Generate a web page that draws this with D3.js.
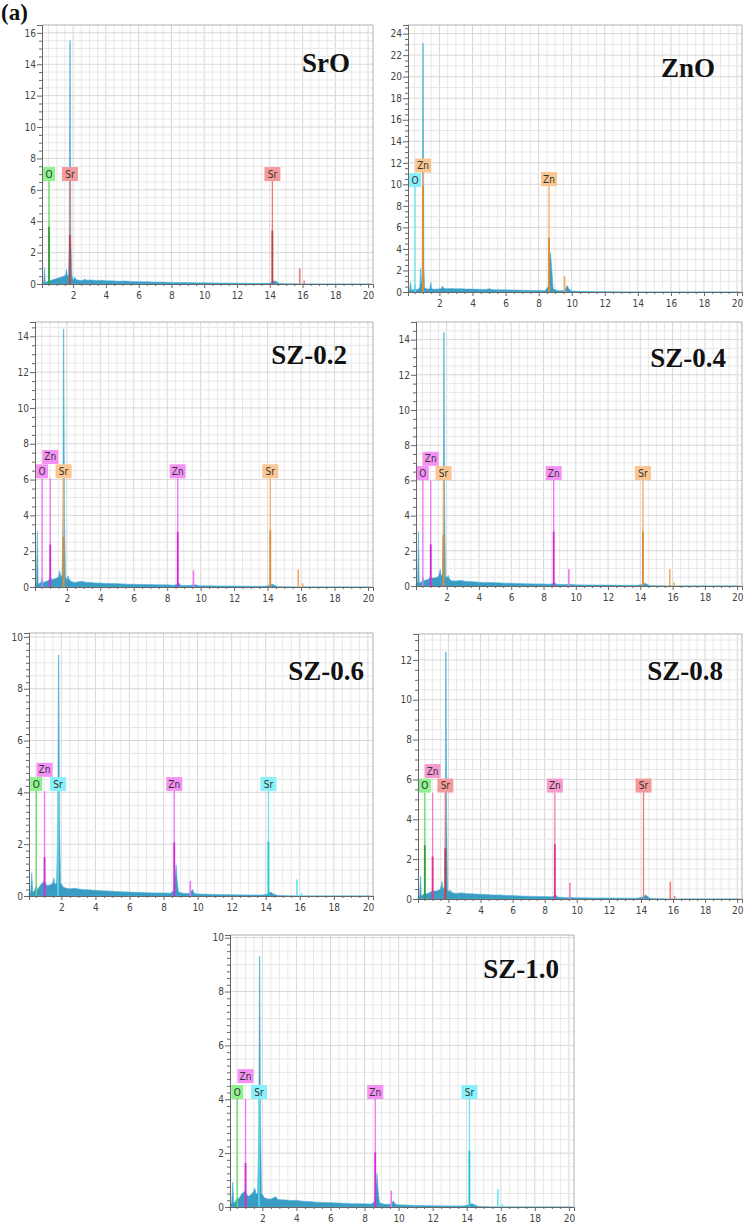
<!DOCTYPE html>
<html><head><meta charset="utf-8">
<script src="https://cdn.jsdelivr.net/npm/d3@7"></script>
<style>body{margin:0;background:#fff}svg{display:block}</style>
</head><body>
<svg id="c" width="745" height="1227"></svg>
<script>
// ---------- DATA ----------
const panelNames = ["SrO","ZnO","SZ-0.2","SZ-0.4","SZ-0.6","SZ-0.8","SZ-1.0"];
const xTickValues = [2,4,6,8,10,12,14,16,18,20];
const yMaxValues = [16.5, 24.8, 14.8, 15.0, 10.15, 13.3, 10.1];
const yGridSteps = [0.5, 1, 0.5, 0.5, 0.5, 0.5, 0.5];
const yMinorSteps = [0.5, 0.5, 0.5, 0.5, 0.25, 0.5, 0.25];

// spectra: [energy keV, counts]
const spectrumSrO = [[0.10,0.05],[0.20,0.1],[0.25,1.05],[0.30,0.1],[0.40,0.15],[0.50,0.2],[0.53,0.6],[0.56,0.2],[0.70,0.25],[0.85,0.3],[1.00,0.35],[1.15,0.4],[1.30,0.45],[1.45,0.5],[1.55,0.6],[1.60,0.95],[1.65,0.5],[1.72,0.6],[1.76,3],[1.80,15.5],[1.82,15.5],[1.86,3],[1.92,0.6],[1.98,0.3],[2.05,0.3],[2.10,0.45],[2.16,0.3],[2.3,0.25],[2.5,0.22],[2.7,0.28],[2.9,0.24],[3.1,0.26],[3.4,0.22],[3.7,0.24],[4.0,0.2],[4.4,0.2],[4.8,0.18],[5.2,0.19],[5.6,0.16],[6.0,0.15],[6.5,0.14],[7.0,0.12],[7.5,0.12],[8.0,0.1],[8.5,0.1],[9.0,0.09],[9.5,0.08],[10.0,0.08],[10.5,0.07],[11,0.06],[11.5,0.06],[12,0.05],[12.5,0.05],[13,0.04],[13.5,0.04],[14.0,0.05],[14.15,0.15],[14.3,0.2],[14.45,0.12],[14.6,0.03],[15,0.01],[16,0],[20.2,0]];
const spectrumZnO = [[0.10,0.05],[0.20,0.15],[0.26,0.9],[0.31,0.15],[0.40,0.2],[0.48,0.25],[0.52,0.7],[0.56,0.25],[0.65,0.2],[0.75,0.3],[0.82,0.5],[0.87,2.2],[0.92,0.8],[0.96,1.5],[1.00,23.1],[1.02,23.1],[1.06,2.5],[1.10,0.4],[1.2,0.3],[1.3,0.28],[1.42,0.3],[1.48,0.9],[1.53,0.3],[1.7,0.25],[1.9,0.28],[2.1,0.3],[2.18,0.55],[2.26,0.35],[2.4,0.3],[2.7,0.32],[3.0,0.3],[3.3,0.31],[3.6,0.28],[4.0,0.27],[4.4,0.25],[4.8,0.24],[5.0,0.3],[5.2,0.22],[5.6,0.2],[6.0,0.2],[6.5,0.18],[7.0,0.17],[7.5,0.15],[8.0,0.15],[8.4,0.14],[8.58,0.5],[8.64,2.5],[8.72,3.65],[8.8,2.0],[8.88,0.3],[9.1,0.15],[9.4,0.12],[9.6,0.2],[9.72,0.6],[9.85,0.25],[10.0,0.1],[10.5,0.06],[11,0.04],[12,0.02],[13,0.01],[14,0],[20.2,0]];
const spectrumSZ02 = [[0.10,0.1],[0.18,0.2],[0.24,3.1],[0.29,0.2],[0.35,0.2],[0.45,0.25],[0.52,0.5],[0.58,0.25],[0.7,0.3],[0.85,0.35],[1.0,0.45],[1.02,0.6],[1.1,0.4],[1.25,0.45],[1.4,0.5],[1.5,0.55],[1.58,0.9],[1.64,0.55],[1.72,0.7],[1.77,4],[1.80,14.4],[1.82,14.4],[1.86,4],[1.92,0.6],[2.0,0.4],[2.08,0.62],[2.15,0.4],[2.3,0.3],[2.5,0.25],[2.7,0.3],[2.9,0.32],[3.1,0.27],[3.4,0.25],[3.7,0.23],[4.0,0.22],[4.4,0.2],[4.8,0.19],[5.2,0.18],[5.6,0.16],[6.0,0.15],[6.5,0.14],[7.0,0.14],[7.5,0.12],[8.0,0.12],[8.4,0.1],[8.62,0.15],[8.7,0.22],[8.8,0.1],[9.2,0.08],[9.7,0.12],[9.9,0.07],[10.5,0.07],[11,0.06],[12,0.05],[13,0.04],[13.8,0.04],[14.1,0.08],[14.3,0.15],[14.45,0.08],[14.6,0.02],[15.5,0],[20.2,0]];
const spectrumSZ04 = [[0.10,0.1],[0.2,0.2],[0.25,3.1],[0.3,0.2],[0.4,0.2],[0.5,0.3],[0.53,0.5],[0.6,0.3],[0.75,0.35],[0.9,0.4],[1.02,0.55],[1.1,0.45],[1.25,0.45],[1.4,0.5],[1.5,0.55],[1.6,0.95],[1.66,0.55],[1.74,0.7],[1.79,4],[1.82,14.4],[1.84,14.4],[1.88,4],[1.93,0.6],[2.0,0.45],[2.1,0.6],[2.17,0.4],[2.3,0.3],[2.5,0.28],[2.7,0.3],[2.9,0.32],[3.1,0.27],[3.4,0.26],[3.7,0.24],[4.0,0.22],[4.4,0.2],[4.8,0.2],[5.2,0.18],[5.6,0.16],[6.0,0.16],[6.5,0.14],[7.0,0.13],[7.5,0.12],[8.0,0.12],[8.4,0.1],[8.62,0.14],[8.7,0.2],[8.8,0.1],[9.2,0.08],[9.7,0.1],[9.9,0.07],[10.5,0.06],[11,0.06],[12,0.05],[13,0.04],[13.8,0.04],[14.1,0.08],[14.3,0.15],[14.45,0.08],[14.6,0.02],[15.5,0],[20.2,0]];
const spectrumSZ06 = [[0.10,0.1],[0.2,0.15],[0.26,0.9],[0.32,0.15],[0.42,0.2],[0.52,0.4],[0.6,0.25],[0.7,0.35],[0.8,0.45],[0.9,0.5],[1.0,0.6],[1.1,0.45],[1.2,0.4],[1.3,0.42],[1.4,0.45],[1.5,0.5],[1.56,0.7],[1.62,0.45],[1.72,0.5],[1.79,3],[1.83,9.3],[1.85,9.3],[1.89,3],[1.95,0.5],[2.02,0.45],[2.1,0.35],[2.3,0.3],[2.5,0.28],[2.8,0.3],[3.0,0.27],[3.3,0.25],[3.6,0.24],[4.0,0.22],[4.4,0.2],[4.8,0.19],[5.2,0.17],[5.6,0.16],[6.0,0.15],[6.5,0.14],[7.0,0.13],[7.5,0.12],[8.0,0.12],[8.4,0.11],[8.6,0.2],[8.68,0.8],[8.74,1.2],[8.8,0.6],[8.88,0.15],[9.2,0.1],[9.5,0.1],[9.7,0.25],[9.82,0.1],[10,0.08],[10.5,0.07],[11,0.06],[12,0.05],[13,0.04],[13.8,0.04],[14.1,0.07],[14.3,0.15],[14.45,0.08],[14.7,0.02],[15.5,0],[20.2,0]];
const spectrumSZ08 = [[0.10,0.1],[0.2,0.15],[0.26,1.15],[0.31,0.15],[0.4,0.2],[0.52,0.3],[0.6,0.25],[0.75,0.3],[0.9,0.35],[1.02,0.45],[1.1,0.4],[1.25,0.4],[1.4,0.45],[1.5,0.5],[1.6,0.9],[1.66,0.5],[1.75,0.6],[1.80,4],[1.83,12.4],[1.85,12.4],[1.89,4],[1.94,0.5],[2.02,0.35],[2.1,0.45],[2.18,0.35],[2.3,0.3],[2.5,0.28],[2.7,0.3],[2.9,0.3],[3.1,0.27],[3.4,0.26],[3.7,0.25],[4.0,0.24],[4.4,0.22],[4.8,0.2],[5.2,0.2],[5.6,0.18],[6.0,0.17],[6.5,0.15],[7.0,0.14],[7.5,0.13],[8.0,0.12],[8.4,0.11],[8.62,0.14],[8.7,0.2],[8.8,0.1],[9.2,0.08],[9.7,0.08],[10,0.06],[10.5,0.06],[11,0.05],[12,0.05],[13,0.04],[13.8,0.04],[14.1,0.1],[14.3,0.2],[14.45,0.1],[14.6,0.02],[15.5,0],[20.2,0]];
const spectrumSZ10 = [[0.10,0.1],[0.2,0.15],[0.26,0.93],[0.32,0.15],[0.42,0.2],[0.52,0.35],[0.6,0.3],[0.7,0.4],[0.8,0.5],[0.9,0.55],[1.0,0.6],[1.1,0.45],[1.2,0.4],[1.3,0.45],[1.4,0.5],[1.5,0.6],[1.56,0.7],[1.62,0.5],[1.72,0.5],[1.79,3],[1.83,9.3],[1.85,9.3],[1.89,3],[1.95,0.5],[2.03,0.45],[2.1,0.35],[2.3,0.3],[2.5,0.3],[2.8,0.38],[2.9,0.28],[3.1,0.27],[3.4,0.26],[3.7,0.24],[4.0,0.25],[4.4,0.21],[4.8,0.2],[5.2,0.18],[5.6,0.17],[6.0,0.16],[6.5,0.15],[7.0,0.13],[7.5,0.12],[8.0,0.12],[8.4,0.11],[8.6,0.2],[8.68,0.8],[8.74,1.25],[8.8,0.6],[8.88,0.15],[9.2,0.1],[9.5,0.1],[9.7,0.22],[9.82,0.1],[10,0.08],[10.5,0.07],[11,0.06],[12,0.05],[13,0.04],[13.8,0.04],[14.1,0.07],[14.3,0.13],[14.45,0.08],[14.7,0.02],[15.5,0],[20.2,0]];

// element markers: energy, line top, label bottom, strong-part height, hue
const markersSrO = [
  {el:"O", e:0.525, top:6.56, lab:6.56, k:3.65, hue:"green"},
  {el:"Sr", e:1.806, top:6.56, lab:6.56, k:3.1, hue:"red"},
  {el:"Sr", e:14.16, top:6.56, lab:6.56, k:3.4, hue:"red"}];
const markersZnO = [
  {el:"O", e:0.525, top:9.75, lab:9.75, k:0, hue:"cyan"},
  {el:"Zn", e:1.012, top:11.1, lab:11.1, k:9.9, hue:"orange"},
  {el:"Zn", e:8.63, top:9.84, lab:9.84, k:5.05, hue:"orange"}];
const markersSZ02 = [
  {el:"O", e:0.525, top:6.07, lab:6.07, k:0, hue:"magenta"},
  {el:"Zn", e:1.012, top:6.07, lab:6.87, k:2.37, hue:"magenta"},
  {el:"Sr", e:1.806, top:6.07, lab:6.07, k:2.8, hue:"orange"},
  {el:"Zn", e:8.63, top:6.07, lab:6.07, k:3.08, hue:"magenta"},
  {el:"Sr", e:14.16, top:6.07, lab:6.07, k:3.17, hue:"orange"}];
const markersSZ04 = [
  {el:"O", e:0.525, top:6.02, lab:6.02, k:0, hue:"magenta"},
  {el:"Zn", e:1.012, top:6.0, lab:6.83, k:2.37, hue:"magenta"},
  {el:"Sr", e:1.806, top:6.02, lab:6.02, k:2.9, hue:"orange"},
  {el:"Zn", e:8.63, top:6.02, lab:6.02, k:3.09, hue:"magenta"},
  {el:"Sr", e:14.16, top:6.02, lab:6.02, k:3.1, hue:"orange"}];
const markersSZ06 = [
  {el:"O", e:0.525, top:4.05, lab:4.05, k:0, hue:"green"},
  {el:"Zn", e:1.012, top:4.05, lab:4.6, k:1.5, hue:"magenta"},
  {el:"Sr", e:1.806, top:4.05, lab:4.05, k:0, hue:"cyan"},
  {el:"Zn", e:8.63, top:4.05, lab:4.05, k:2.07, hue:"magenta"},
  {el:"Sr", e:14.16, top:4.05, lab:4.05, k:2.1, hue:"cyan"}];
const markersSZ08 = [
  {el:"O", e:0.525, top:5.34, lab:5.34, k:2.7, hue:"green"},
  {el:"Zn", e:1.012, top:5.34, lab:6.07, k:2.13, hue:"pink"},
  {el:"Sr", e:1.806, top:5.34, lab:5.34, k:2.55, hue:"red"},
  {el:"Zn", e:8.63, top:5.34, lab:5.34, k:2.75, hue:"pink"},
  {el:"Sr", e:14.16, top:5.34, lab:5.34, k:0, hue:"red"}];
const markersSZ10 = [
  {el:"O", e:0.525, top:4.01, lab:4.01, k:0, hue:"green"},
  {el:"Zn", e:1.012, top:4.01, lab:4.6, k:1.63, hue:"magenta"},
  {el:"Sr", e:1.806, top:4.01, lab:4.01, k:0, hue:"cyan"},
  {el:"Zn", e:8.63, top:4.01, lab:4.01, k:2.03, hue:"magenta"},
  {el:"Sr", e:14.16, top:4.01, lab:4.01, k:2.09, hue:"cyan"}];

// secondary (K-beta etc.) lines: energy, height, hue
const minorLinesSrO = [{e:15.83,h:1.0,hue:"red"},{e:16.1,h:0.2,hue:"red"}];
const minorLinesZnO = [{e:9.57,h:1.46,hue:"orange"}];
const minorLinesSZ02 = [{e:9.57,h:0.93,hue:"magenta"},{e:15.83,h:0.97,hue:"orange"},{e:16.1,h:0.2,hue:"orange"}];
const minorLinesSZ04 = [{e:9.57,h:0.95,hue:"magenta"},{e:15.83,h:0.95,hue:"orange"},{e:16.1,h:0.2,hue:"orange"}];
const minorLinesSZ06 = [{e:9.57,h:0.59,hue:"magenta"},{e:15.83,h:0.64,hue:"cyan"},{e:16.1,h:0.1,hue:"cyan"}];
const minorLinesSZ08 = [{e:9.57,h:0.82,hue:"pink"},{e:15.83,h:0.87,hue:"red"},{e:16.1,h:0.15,hue:"red"}];
const minorLinesSZ10 = [{e:9.57,h:0.61,hue:"magenta"},{e:15.83,h:0.66,hue:"cyan"},{e:16.1,h:0.1,hue:"cyan"}];

const spectra = [spectrumSrO,spectrumZnO,spectrumSZ02,spectrumSZ04,spectrumSZ06,spectrumSZ08,spectrumSZ10];
const markers = [markersSrO,markersZnO,markersSZ02,markersSZ04,markersSZ06,markersSZ08,markersSZ10];
const minorLines = [minorLinesSrO,minorLinesZnO,minorLinesSZ02,minorLinesSZ04,minorLinesSZ06,minorLinesSZ08,minorLinesSZ10];

// ---------- LAYOUT & STYLE ----------
const frames = [
  {l:42, t:25, r:373, b:284, tdx:23, tdy:47},
  {l:408,t:25, r:742, b:292, tdx:27, tdy:52},
  {l:35, t:322,r:373, b:587, tdx:26, tdy:42},
  {l:416,t:322,r:742, b:586, tdx:16, tdy:45},
  {l:29, t:633,r:373, b:896, tdx:9,  tdy:47},
  {l:418,t:634,r:742, b:899, tdx:19, tdy:46},
  {l:230,t:935,r:574, b:1207,tdx:15, tdy:43}];
const hues = {
  green:  {box:"#8ef28e", line:"#62dc62", k:"#2f9f3a"},
  red:    {box:"#f59a9a", line:"#f07a7a", k:"#c53d3d"},
  orange: {box:"#f9c590", line:"#f5a95e", k:"#df8a30"},
  magenta:{box:"#f591f5", line:"#f274f2", k:"#d22ad2"},
  cyan:   {box:"#88f0fa", line:"#62e6f2", k:"#22c6d6"},
  pink:   {box:"#f79ad0", line:"#f27cbc", k:"#de358f"}};
const tickFont = "'DejaVu Sans Condensed','Liberation Sans Narrow',sans-serif";

const svg = d3.select("#c");
svg.append("text").attr("x",1).attr("y",20)
  .attr("font-family","'Liberation Serif','Times New Roman',serif")
  .attr("font-weight","bold").attr("font-size",23).attr("fill","#111").text("(a)");

panelNames.forEach((name,i)=>{
  const f = frames[i];
  const x = d3.scaleLinear().domain([0.1,20.3]).range([f.l,f.r]);
  const y = d3.scaleLinear().domain([0,yMaxValues[i]]).range([f.b,f.t]);
  const g = svg.append("g");

  // grid
  const xGrid = d3.range(0.5,20.3,0.5);
  const yGrid = d3.range(yGridSteps[i], yMaxValues[i], yGridSteps[i]);
  g.append("g").selectAll("line").data(xGrid).join("line")
    .attr("x1",d=>x(d)).attr("x2",d=>x(d)).attr("y1",f.t).attr("y2",f.b)
    .attr("stroke",d=>Math.abs(d%2)<1e-6?"#d8d8d8":"#e8e8e8").attr("stroke-width",1);
  g.append("g").selectAll("line").data(yGrid).join("line")
    .attr("x1",f.l).attr("x2",f.r).attr("y1",d=>y(d)).attr("y2",d=>y(d))
    .attr("stroke",d=>Math.abs(d%2)<1e-6?"#d8d8d8":"#e8e8e8").attr("stroke-width",1);
  // frame top/right
  g.append("path").attr("d",`M${f.l},${f.t}H${f.r}V${f.b}`)
    .attr("fill","none").attr("stroke","#b0b0b0").attr("stroke-width",1);

  // spectrum
  const area = d3.area().x(d=>x(d[0])).y0(y(0)).y1(d=>y(d[1]));
  g.append("path").datum(spectra[i]).attr("d",area)
    .attr("fill","#3a9cc3").attr("stroke","#4fb3da").attr("stroke-width",0.6);

  // minor lines
  g.append("g").selectAll("line").data(minorLines[i]).join("line")
    .attr("x1",d=>x(d.e)).attr("x2",d=>x(d.e)).attr("y1",y(0)).attr("y2",d=>y(d.h))
    .attr("stroke",d=>hues[d.hue].line).attr("stroke-width",1.6);

  // markers
  const mg = g.append("g").selectAll("g").data(markers[i]).join("g");
  mg.append("line").attr("x1",d=>x(d.e)).attr("x2",d=>x(d.e))
    .attr("y1",y(0)).attr("y2",d=>y(d.top))
    .attr("stroke",d=>hues[d.hue].line).attr("stroke-width",1.3);
  mg.filter(d=>d.k>0).append("line").attr("x1",d=>x(d.e)).attr("x2",d=>x(d.e))
    .attr("y1",y(0)).attr("y2",d=>y(d.k))
    .attr("stroke",d=>hues[d.hue].k).attr("stroke-width",1.8);
  mg.append("rect")
    .attr("x",d=>x(d.e)-(d.el.length>1?8:6)).attr("width",d=>d.el.length>1?16:12)
    .attr("y",d=>y(d.lab)-14).attr("height",14)
    .attr("fill",d=>hues[d.hue].box);
  mg.append("text").attr("x",d=>x(d.e)).attr("y",d=>y(d.lab)-3.5)
    .attr("text-anchor","middle").attr("font-family",tickFont).attr("font-size",10)
    .attr("fill","#333").text(d=>d.el);

  // axes
  const yMajor = d3.range(0, yMaxValues[i]+1e-9, 2);
  const yMinor = d3.range(0, yMaxValues[i]+1e-9, yMinorSteps[i]).filter(v=>Math.abs(v%2)>1e-6);
  const xMinor = d3.range(0.5,20.3,0.5).filter(v=>Math.abs(v%2)>1e-6);
  const ax1 = g.append("g").attr("transform",`translate(${f.l},0)`)
    .call(d3.axisLeft(y).tickValues(yMajor).tickSize(5).tickPadding(1).tickFormat(d3.format("d")));
  const ax2 = g.append("g").attr("transform",`translate(${f.l},0)`)
    .call(d3.axisLeft(y).tickValues(yMinor).tickSize(3).tickFormat(""));
  const ax3 = g.append("g").attr("transform",`translate(0,${f.b})`)
    .call(d3.axisBottom(x).tickValues(xTickValues).tickSize(4).tickPadding(4).tickFormat(d3.format("d")));
  const ax4 = g.append("g").attr("transform",`translate(0,${f.b})`)
    .call(d3.axisBottom(x).tickValues(xMinor).tickSize(2).tickFormat(""));
  [ax1,ax2,ax3,ax4].forEach(a=>{
    a.selectAll("path").attr("stroke","#666");
    a.selectAll("line").attr("stroke","#666");
    a.selectAll("text").attr("font-family",tickFont).attr("font-size",10).attr("fill","#444");
  });

  // title
  svg.append("text").attr("x",f.r-f.tdx).attr("y",f.t+f.tdy)
    .attr("text-anchor","end").attr("font-family","'Liberation Serif','Times New Roman',serif")
    .attr("font-weight","bold").attr("font-size",27).attr("fill","#111").text(name);
});
</script>
</body></html>
